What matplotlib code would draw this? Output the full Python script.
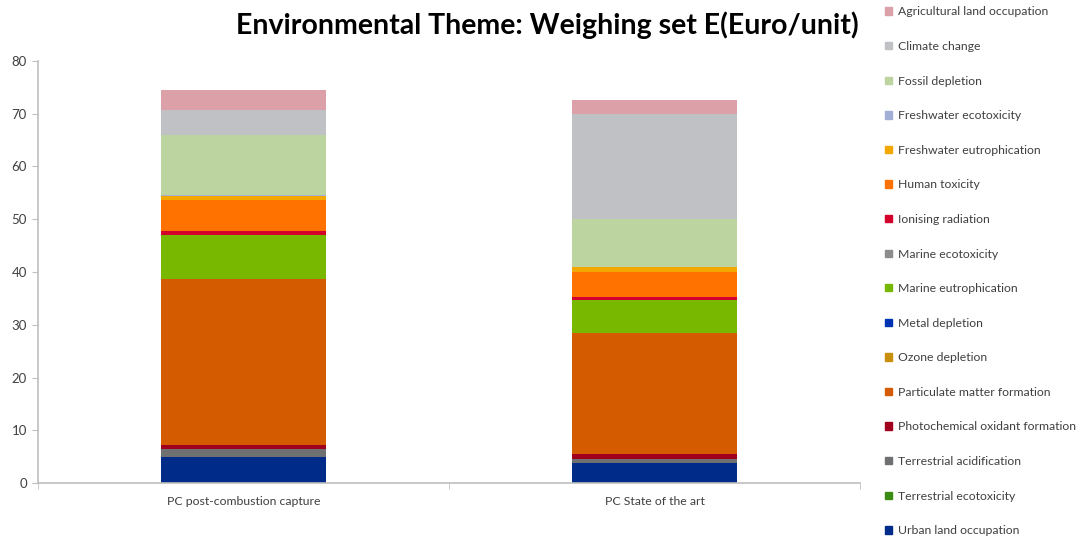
import numpy as np
import matplotlib
matplotlib.use('Agg')
import matplotlib.pyplot as plt
from matplotlib.patches import Patch

plt.rcParams['font.family'] = ['Lato', 'DejaVu Sans']

# stack order, bottom first
categories = ['Urban land occupation', 'Terrestrial ecotoxicity',
              'Terrestrial acidification', 'Photochemical oxidant formation',
              'Particulate matter formation', 'Ozone depletion', 'Metal depletion',
              'Marine eutrophication', 'Marine ecotoxicity', 'Ionising radiation',
              'Human toxicity', 'Freshwater eutrophication', 'Freshwater ecotoxicity',
              'Fossil depletion', 'Climate change', 'Agricultural land occupation']

scenarios = ['PC post-combustion capture', 'PC State of the art']

post_combustion = [5.0, 0.02, 1.4, 0.8, 31.4, 0.02, 0.02, 8.3, 0.05, 0.7,
                   6.0, 0.7, 0.2, 11.4, 4.7, 3.8]
state_of_art = [3.9, 0.02, 0.75, 0.8, 23.0, 0.02, 0.02, 6.2, 0.08, 0.4,
                4.8, 0.9, 0.1, 9.0, 19.9, 2.7]

colors = ['#002b88', '#3c8c14', '#6f7072', '#a0001e',
          '#d45b00', '#c8900a', '#0033b4', '#78b800', '#8c8c8c', '#d2002a',
          '#ff7200', '#f2a800', '#a3aed6', '#bcd5a0', '#bfc1c4', '#dba0a8']

data = np.array([post_combustion, state_of_art]).T
x = np.arange(len(scenarios))

fig = plt.figure(figsize=(10.83, 5.42), dpi=100)
ax = fig.add_axes([38/1083, 1 - 483.3/542, (860-38)/1083, (483.3-60.7)/542])

bottom = np.zeros(len(scenarios))
for i, cat in enumerate(categories):
    ax.bar(x, data[i], 0.4, bottom=bottom, color=colors[i], linewidth=0, label=cat)
    bottom += data[i]

ax.set_xlim(-0.5, 1.5)
ax.set_ylim(0, 80)
ax.set_yticks(np.arange(0, 81, 10))
ax.set_xticks(x)
ax.set_xticklabels(scenarios)
ax.set_xticks([-0.5, 0.5, 1.5], minor=True)
ax.tick_params(axis='x', which='major', length=0, pad=9, labelsize=8.8, labelcolor='#404040')
ax.tick_params(axis='x', which='minor', length=4, color='#bfbfbf')
ax.tick_params(axis='y', length=4, color='#bfbfbf', labelsize=9.5, labelcolor='#404040', pad=4)

for s in ['top', 'right']:
    ax.spines[s].set_visible(False)
for s in ['left', 'bottom']:
    ax.spines[s].set_color('#bfbfbf')
    ax.spines[s].set_linewidth(1.2)

fig.text(547/1083, 1 - 25/542, 'Environmental Theme: Weighing set E(Euro/unit)',
         ha='center', va='center', fontsize=20.5, fontweight='bold')

handles = [Patch(color=colors[i], label=categories[i]) for i in range(len(categories))][::-1]
fig.legend(handles=handles, loc='upper left', bbox_to_anchor=(880/1083, 1 - 1.5/542),
           frameon=False, fontsize=8.8, handlelength=0.55, handleheight=0.55,
           handletextpad=0.55, labelspacing=1.93, borderaxespad=0,
           labelcolor='#404040')

plt.savefig('out.png', dpi=100)
